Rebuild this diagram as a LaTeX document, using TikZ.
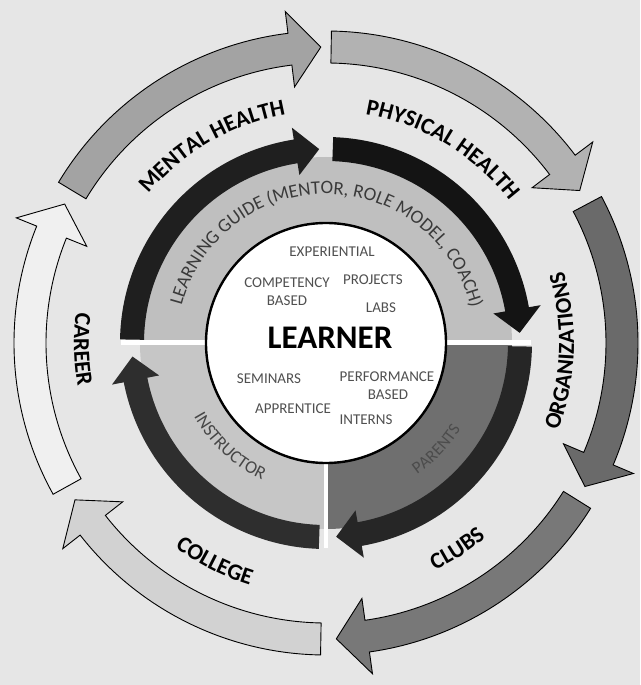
\documentclass[tikz,border=0pt]{standalone}
\usepackage{fontspec}
\setmainfont{Carlito}
\usetikzlibrary{decorations.text}
\definecolor{bgc}{HTML}{E6E6E6}
\definecolor{bandtop}{HTML}{BFBFBF}
\definecolor{bandbl}{HTML}{C6C6C6}
\definecolor{bandbr}{HTML}{6F6F6F}
\definecolor{arrMental}{HTML}{A3A3A3}
\definecolor{arrPhys}{HTML}{B2B2B2}
\definecolor{arrOrg}{HTML}{6A6A6A}
\definecolor{arrClubs}{HTML}{787878}
\definecolor{arrCollege}{HTML}{D2D2D2}
\definecolor{arrCareer}{HTML}{F0F0F0}
\definecolor{innertext}{HTML}{505050}
\definecolor{guidetext}{HTML}{3A3A3A}
\definecolor{parenttext}{HTML}{4C4C4C}
% outer ring arrow: #1 start angle, #2 tip angle (clockwise), #3 fill
\newcommand\outerring[3]{%
  \path[outerarrow, fill=#3] (#1:312pt) arc[start angle=#1, end angle={#2+6}, radius=312pt]
    -- ({#2+6}:334pt) -- (#2:296pt) -- ({#2+6}:258pt) -- ({#2+6}:280pt)
    arc[start angle={#2+6}, end angle=#1, radius=280pt] -- cycle;}
% inner dark arrow
\newcommand\innerring[3]{%
  \path[innerarrow, fill=#3] (#1:206pt) arc[start angle=#1, end angle={#2+7}, radius=206pt]
    -- ({#2+7}:218pt) -- (#2:194pt) -- ({#2+7}:170pt) -- ({#2+7}:182pt)
    arc[start angle={#2+7}, end angle=#1, radius=182pt] -- cycle;}
% text along an arc: #1 start, #2 end, #3 radius, #4 format, #5 text
\newcommand\arclabel[5]{%
  \path[decorate, decoration={text along path, text align=center, text={|#4|#5}}]
    (#1:#3pt) arc[start angle=#1, end angle=#2, radius=#3pt];}
\tikzset{
  outerarrow/.style={draw=black, line width=0.9pt, line join=miter},
  innerarrow/.style={draw=none},
  smalltxt/.style={inner sep=0pt, text=innertext, font=\fontsize{15}{15}\selectfont,
    text height=9.7pt, text depth=0pt, align=center},
}
\begin{document}
\begin{tikzpicture}[x=1pt,y=1pt]
\useasboundingbox (-326,-342) rectangle (314,343);
\fill[bgc] (-326,-342) rectangle (314,343);
% quadrant bands
\fill[bandtop] (0:120pt) arc[start angle=0, end angle=180, radius=120pt]
  -- (180:186pt) arc[start angle=180, end angle=0, radius=186pt] -- cycle;
\fill[bandbl] (180:120pt) arc[start angle=180, end angle=270, radius=120pt]
  -- (270:186pt) arc[start angle=270, end angle=180, radius=186pt] -- cycle;
\fill[bandbr] (270:120pt) arc[start angle=270, end angle=360, radius=120pt]
  -- (360:186pt) arc[start angle=360, end angle=270, radius=186pt] -- cycle;
% white gaps between quadrants
\fill[white] (-205,-2.5) rectangle (205,2.5);
\fill[white] (-2,-205) rectangle (2,-110);
% dark inner arrows
\innerring{179}{92}{black!88}
\innerring{88}{3}{black!92}
\innerring{-1}{-87}{black!85}
\innerring{-92}{-176}{black!82}
% centre circle
\node[circle, draw=black, line width=2.4pt, fill=white, minimum size=240pt, inner sep=0pt] (core) at (0,0) {};
% band labels
\arclabel{180}{-1}{149}{\color{guidetext}\fontsize{19}{19}\selectfont}{LEARNING GUIDE (MENTOR, ROLE MODEL, COACH)}
\arclabel{-170}{-96}{151}{\color{black!72}\fontsize{18}{18}\selectfont}{INSTRUCTOR}
\arclabel{-80}{-8}{160}{\color{parenttext}\fontsize{17}{17}\selectfont}{PARENTS}
% outer arrows
\outerring{149}{91}{arrMental}
\outerring{89}{31}{arrPhys}
\outerring{28}{-29}{arrOrg}
\outerring{-32}{-88}{arrClubs}
\outerring{-91}{-148}{arrCollege}
\outerring{209}{152}{arrCareer}
% outer labels
\arclabel{170}{70}{232}{\bfseries\fontsize{23}{23}\selectfont}{MENTAL HEALTH}
\arclabel{109}{9}{232}{\bfseries\fontsize{23}{23}\selectfont}{PHYSICAL HEALTH}
\arclabel{-52}{48}{248}{\bfseries\fontsize{23}{23}\selectfont}{ORGANIZATIONS}
\arclabel{-107.5}{-7.5}{252}{\bfseries\fontsize{23}{23}\selectfont}{CLUBS}
\arclabel{-167}{-67}{254}{\bfseries\fontsize{23}{23}\selectfont}{COLLEGE}
\arclabel{131.5}{231.5}{252}{\bfseries\fontsize{23}{23}\selectfont}{CAREER}
% inner circle texts
\node[smalltxt] (exp) at (6,91) {EXPERIENTIAL};
\node[smalltxt] (comp) at (-39,60) {COMPETENCY};
\node[smalltxt] (based1) at (-39,42) {BASED};
\node[smalltxt] (proj) at (47,63) {PROJECTS};
\node[smalltxt] (labs) at (55,35) {LABS};
\node[inner sep=0pt, font=\bfseries\fontsize{33}{33}\selectfont, text height=21pt, text depth=0pt] (learner) at (4,5) {LEARNER};
\node[smalltxt] (sem) at (-57,-36) {SEMINARS};
\node[smalltxt] (perf) at (61,-34) {PERFORMANCE};
\node[smalltxt] (based2) at (62,-52) {BASED};
\node[smalltxt] (appr) at (-33,-66) {APPRENTICE};
\node[smalltxt] (intern) at (40,-77) {INTERNS};
\end{tikzpicture}
\end{document}
